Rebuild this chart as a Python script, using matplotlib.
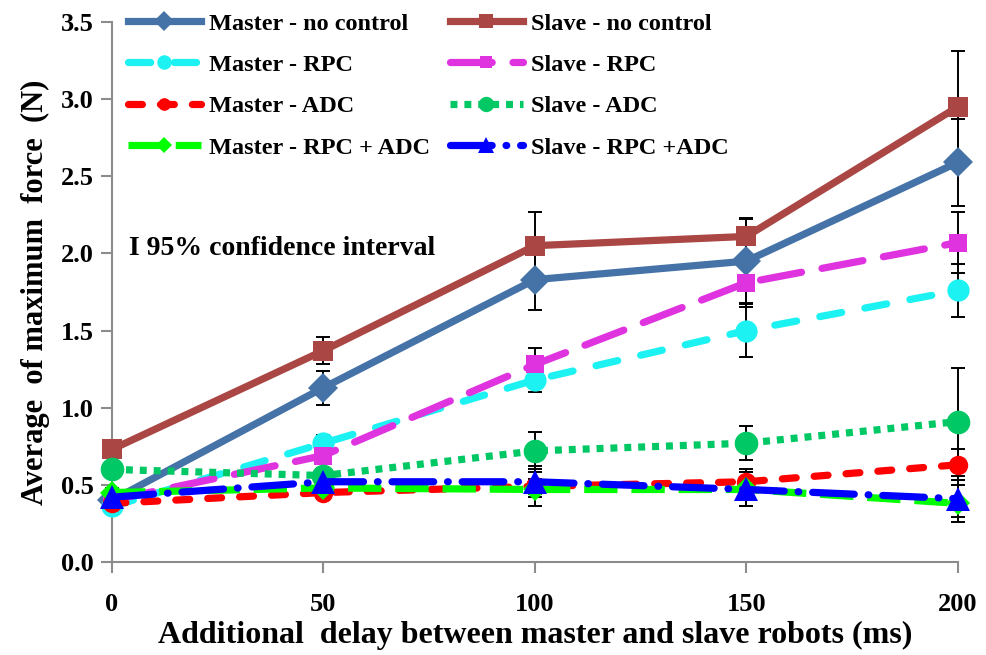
import numpy as np
import matplotlib.pyplot as plt

plt.rcParams['font.family'] = ['Liberation Serif', 'DejaVu Serif']
plt.rcParams['font.weight'] = 'bold'
plt.rcParams['lines.scale_dashes'] = False

delay = [0, 50, 100, 150, 200]

master_none = [0.40, 1.13, 1.83, 1.95, 2.59]
slave_none = [0.73, 1.37, 2.05, 2.11, 2.95]
master_rpc = [0.36, 0.77, 1.18, 1.50, 1.76]
slave_rpc = [0.40, 0.69, 1.28, 1.81, 2.07]
master_adc = [0.38, 0.45, 0.49, 0.52, 0.63]
slave_adc = [0.60, 0.56, 0.72, 0.77, 0.91]
master_both = [0.45, 0.48, 0.47, 0.47, 0.38]
slave_both = [0.42, 0.52, 0.52, 0.47, 0.41]

# 95% confidence half-widths
err_master_none = [0.03, 0.11, 0.20, 0.27, 0.28]
err_slave_none = [0.03, 0.09, 0.22, 0.12, 0.36]
err_master_rpc = [0.03, 0.05, 0.08, 0.17, 0.17]
err_slave_rpc = [0.03, 0.05, 0.11, 0.16, 0.20]
err_master_adc = [0.03, 0.04, 0.05, 0.08, 0.10]
err_slave_adc = [0.03, 0.05, 0.12, 0.11, 0.35]
err_master_both = [0.03, 0.07, 0.11, 0.11, 0.12]
err_slave_both = [0.03, 0.05, 0.10, 0.11, 0.12]

series = [
    ('Master - no control', master_none, err_master_none, '#4572A7', 'D', 15, dict(linestyle='-')),
    ('Slave - no control', slave_none, err_slave_none, '#AA4643', 's', 15, dict(linestyle='-')),
    ('Master - RPC', master_rpc, err_master_rpc, '#1CF2F2', 'o', 16,
     dict(dashes=(16, 17), dash_capstyle='round')),
    ('Slave - RPC', slave_rpc, err_slave_rpc, '#E033E0', 's', 13,
     dict(dashes=(30, 15), dash_capstyle='round')),
    ('Master - ADC', master_adc, err_master_adc, '#FF0000', 'o', 14,
     dict(dashes=(10, 13), dash_capstyle='round')),
    ('Slave - ADC', slave_adc, err_slave_adc, '#00C864', 'o', 17,
     dict(dashes=(5, 5), dash_capstyle='butt')),
    ('Master - RPC + ADC', master_both, err_master_both, '#00FF00', 'D', 12,
     dict(dashes=(24, 10), dash_capstyle='butt')),
    ('Slave - RPC +ADC', slave_both, err_slave_both, '#0000FF', '^', 17,
     dict(dashes=(30, 10, 0.5, 10), dash_capstyle='round')),
]

fig = plt.figure(figsize=(9.87, 6.55), dpi=100)
ax = fig.add_axes([0.1135, 0.142, 0.857, 0.8245])

for i, (name, vals, err, color, marker, ms, style) in enumerate(series):
    ax.errorbar(delay, vals, yerr=err, fmt='none', ecolor='black', elinewidth=1.4,
                capsize=5, capthick=1.4, zorder=2 + i * 0.1, clip_on=False)

lines = []
for i, (name, vals, err, color, marker, ms, style) in enumerate(series):
    line, = ax.plot(delay, vals, color=color, linewidth=5.2, marker=marker, markersize=ms,
                    markeredgewidth=0, label=name, zorder=3 + i * 0.1, clip_on=False, **style)
    lines.append(line)

ax.set_xlim(0, 200)
ax.set_ylim(0, 3.5)
ax.set_xticks(delay)
ax.set_yticks(np.arange(0, 3.51, 0.5))
ax.set_yticklabels(['%.1f' % v for v in np.arange(0, 3.51, 0.5)])

for side in ['top', 'right']:
    ax.spines[side].set_visible(False)
for side in ['left', 'bottom']:
    ax.spines[side].set_color('#8C8C8C')
    ax.spines[side].set_linewidth(1.5)
ax.tick_params(axis='y', direction='out', length=8, width=1.5, color='#8C8C8C',
               labelsize=19, pad=5)
ax.tick_params(axis='x', direction='out', length=8, width=1.5, color='#8C8C8C',
               labelsize=19, pad=14)

ax.set_xlabel('Additional  delay between master and slave robots (ms)', fontsize=23,
              fontweight='bold', labelpad=4)
ax.set_ylabel('Average  of maximum  force  (N)', fontsize=22, fontweight='bold', labelpad=8)

ax.text(4, 2.03, 'I 95% confidence interval', fontsize=20, fontweight='bold', va='center')

# masters in the left column, slaves in the right one
order = [0, 2, 4, 6, 1, 3, 5, 7]
ax.legend([lines[k] for k in order], [series[k][0] for k in order],
          ncol=2, loc='upper left', bbox_to_anchor=(-0.007, 1.058), frameon=False,
          handlelength=3.0, handletextpad=0.35, columnspacing=0.8,
          labelspacing=0.8, markerscale=0.65, prop={'weight': 'bold', 'size': 17.5})

fig.savefig('out.png', dpi=100)
